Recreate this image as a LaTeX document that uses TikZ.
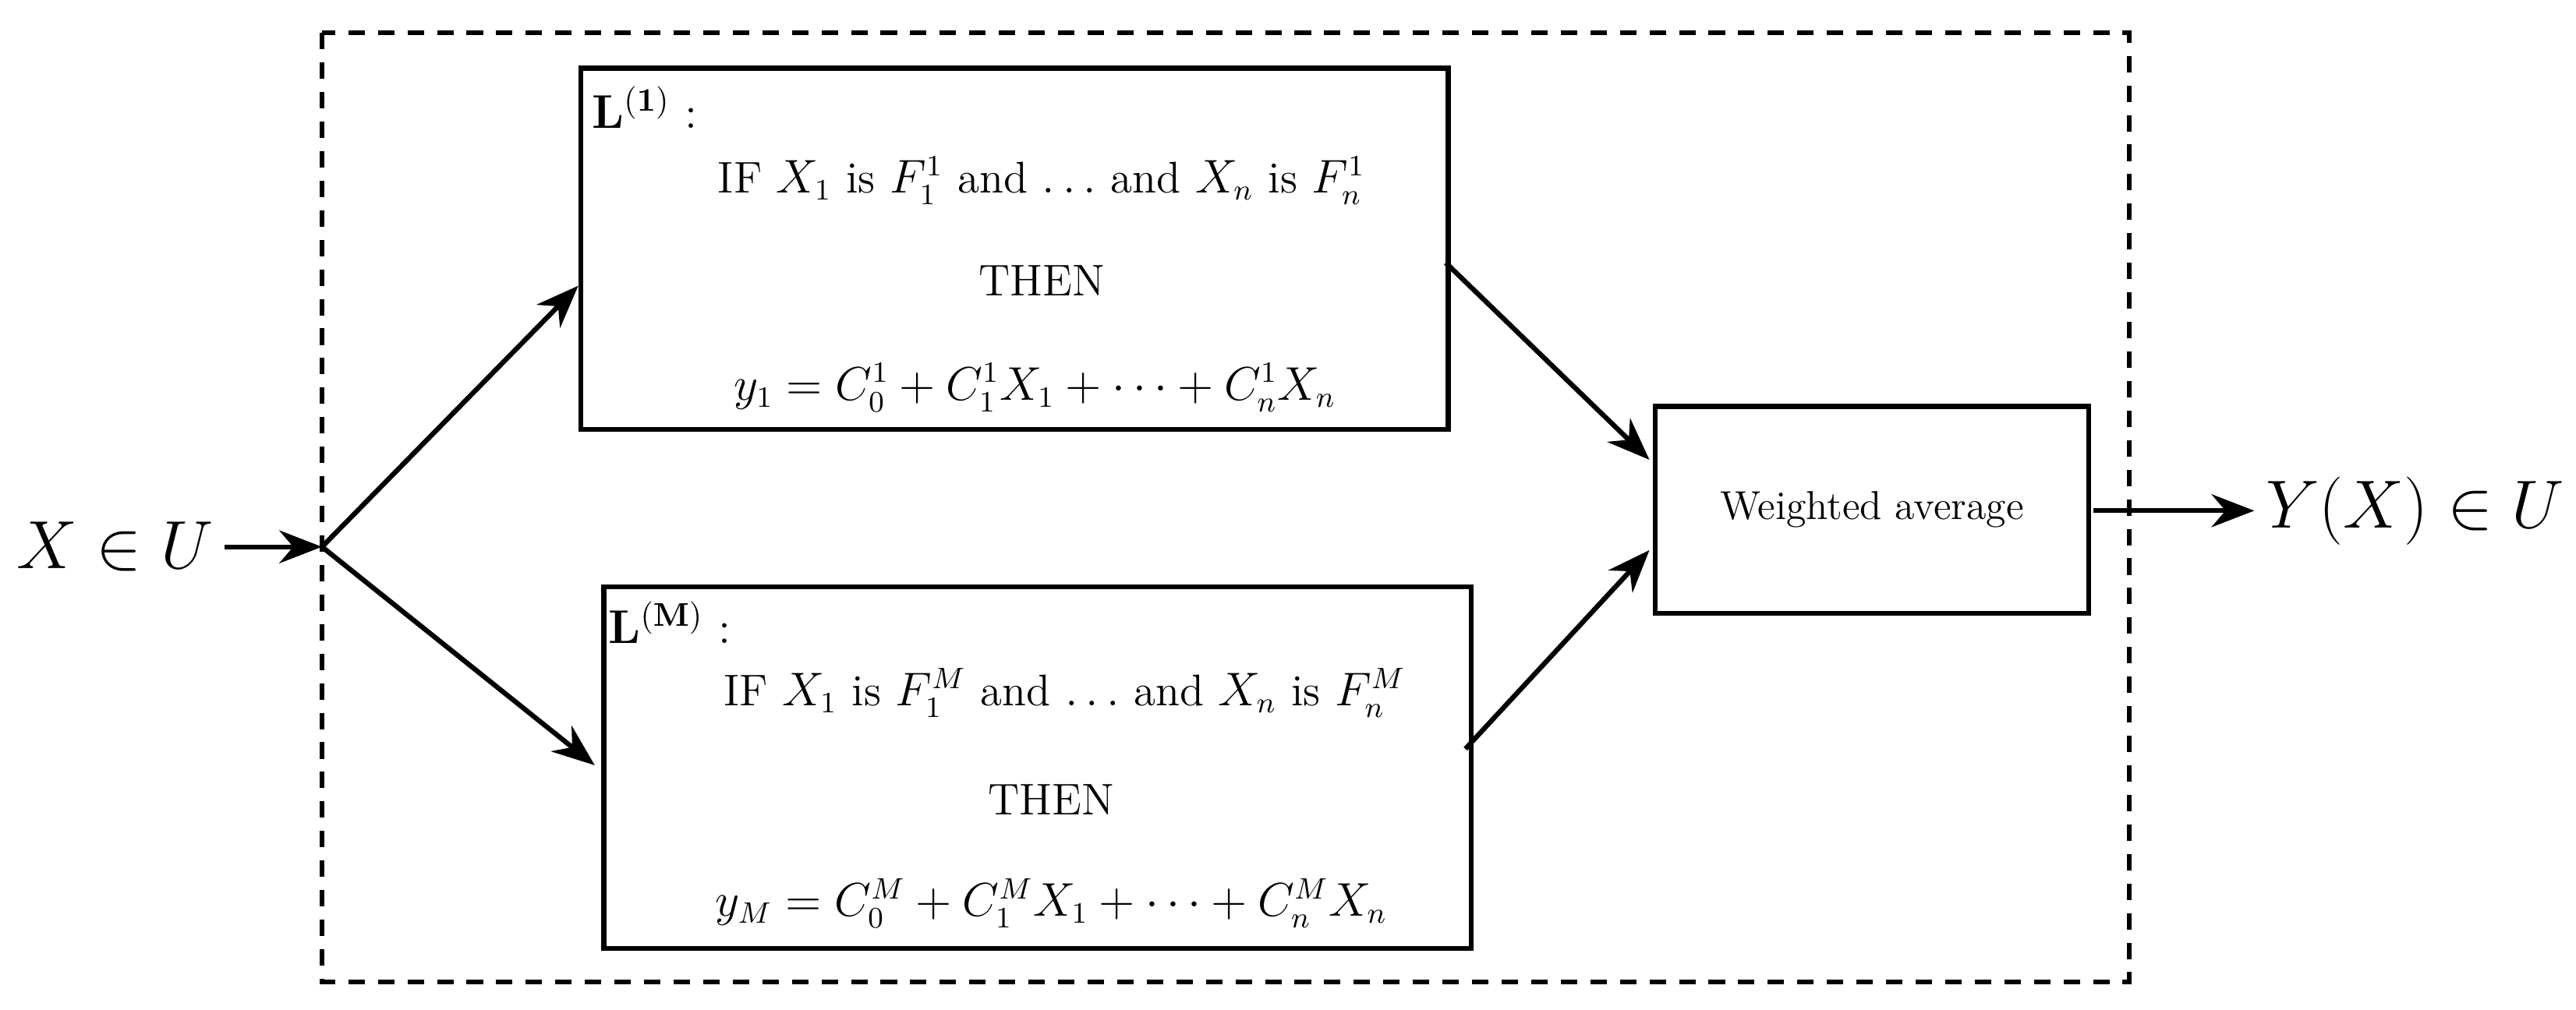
\documentclass[tikz,border=0pt]{standalone}
\usepackage{amsmath}
\usetikzlibrary{arrows.meta}
\begin{document}
\begin{tikzpicture}[x=0.5pt,y=-0.5pt,
  box/.style={draw,line width=1.5pt,inner sep=0pt,anchor=north west},
  arr/.style={line width=1.5pt,-{Stealth[length=13pt,width=10pt]}},
  txt/.style={font=\fontsize{13.5}{16}\selectfont}]
\useasboundingbox (0,0) rectangle (1568,615);
\draw[line width=1.5pt,dash pattern=on 5pt off 4pt] (196,20) rectangle (1296,598);
\node[box,minimum width=264pt,minimum height=110pt] (L1) at (352,40) {};
\node[box,minimum width=264pt,minimum height=110pt] (LM) at (366,356) {};
\node[box,minimum width=132pt,minimum height=63pt] (W) at (1006,246) {};
\node[font=\fontsize{12.3}{14}\selectfont] (wt) at (W.center) {Weighted average};
\node[anchor=north west,font=\fontsize{14}{16}\selectfont,inner sep=1pt] (l1) at (358,50) {$\mathbf{L^{(1)}}$ :};
\node[anchor=north west,font=\fontsize{14}{16}\selectfont,inner sep=1pt] (lm) at (368,364) {$\mathbf{L^{(M)}}$ :};
\node[txt] (a1) at (634,110) {IF $X_1$ is $F_1^1$ and $\ldots$ and $X_n$ is $F_n^1$};
\node[txt] (b1) at (634,171) {THEN};
\node[txt] (c1) at (630,236) {$y_1=C_0^1+C_1^1X_1+\cdots+C_n^1X_n$};
\node[txt] (aM) at (648,422) {IF $X_1$ is $F_1^M$ and $\ldots$ and $X_n$ is $F_n^M$};
\node[txt] (bM) at (640,487) {THEN};
\node[txt] (cM) at (640,550) {$y_M=C_0^M+C_1^MX_1+\cdots+C_n^MX_n$};
\node[font=\fontsize{21}{24}\selectfont] (x) at (70,333) {$X\in U$};
\node[font=\fontsize{21}{24}\selectfont] (y) at (1470,311) {$Y(X)\in U$};
\coordinate (s) at (196,333);
\coordinate (o1) at (1274,311);
\draw[arr] (x.east) -- (s);
\draw[arr] (s) -- (352,174);
\draw[arr] (s) -- (362,466);
\draw[arr] (880,160) -- (1004,280);
\draw[arr] (892,456) -- (1004,335);
\draw[arr] (o1) -- (y.west);
\end{tikzpicture}
\end{document}
